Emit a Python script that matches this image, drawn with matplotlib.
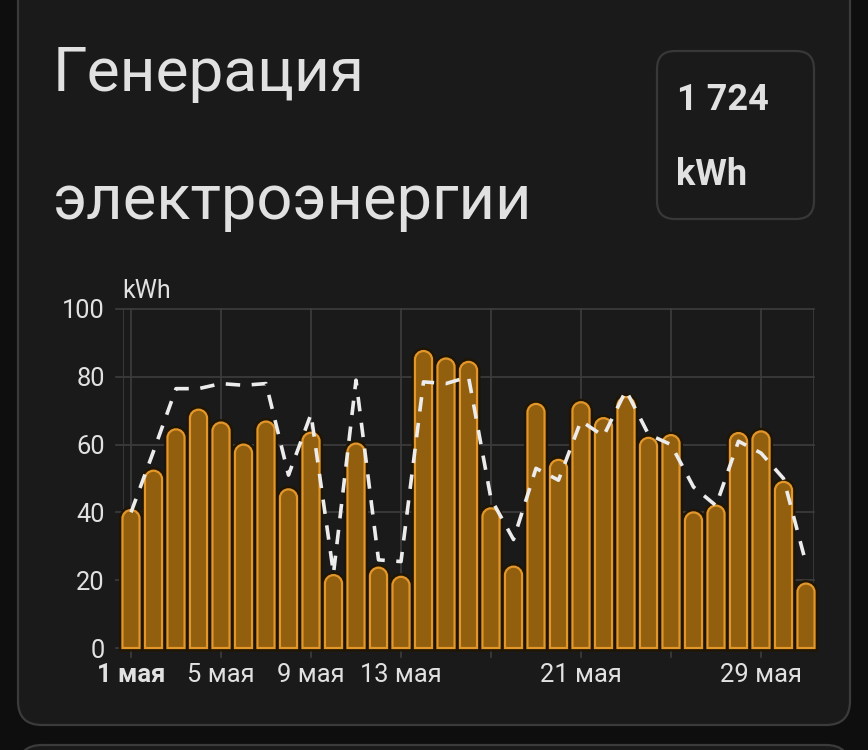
import numpy as np
import matplotlib
matplotlib.use('Agg')
import matplotlib.pyplot as plt
from matplotlib.patches import FancyBboxPatch, PathPatch
from matplotlib.path import Path

plt.rcParams['font.family'] = ['Roboto', 'DejaVu Sans']

days = list(range(1, 32))
generation = [40.7, 52.3, 64.5, 70.3, 66.5, 60, 66.8, 46.8, 63.5, 21.5, 60.3, 23.7, 21, 87.6, 85.4, 84.4,
              41.2, 24, 72, 55.5, 72.5, 67.8, 74, 62, 62.8, 40, 42, 63.4, 63.9, 49, 19]
forecast = [40, 58, 76.5, 76.5, 78, 77.5, 78, 51, 69, 22, 79, 26, 25.5, 78.5, 78, 80, 44, 32,
            53, 49.5, 67, 62.5, 76, 63, 60, 47.5, 42, 61, 57.5, 50, 25]
tick_days = [1, 5, 9, 13, 21, 29]
tick_labels = ['1 мая', '5 мая', '9 мая', '13 мая', '21 мая', '29 мая']
grid_days = [1, 5, 9, 13, 17, 21, 25, 29]
y_ticks = [0, 20, 40, 60, 80, 100]

W, H = 868, 750
fig = plt.figure(figsize=(W / 100, H / 100), dpi=100, facecolor='#0e0e0e')

# background layer in pixel coords, y going down
bg = fig.add_axes([0, 0, 1, 1])
bg.set_xlim(0, W)
bg.set_ylim(H, 0)
bg.axis('off')


def card(x0, y0, x1, y1, r, face, edge, lw=1.6):
    bg.add_patch(FancyBboxPatch((x0 + r, y0 + r), x1 - x0 - 2 * r, y1 - y0 - 2 * r,
                                boxstyle=f'round,pad={r},rounding_size={r}',
                                fc=face, ec=edge, lw=lw))


card(18, -40, 850, 725, 24, '#1a1a1a', '#3b3b3b')
card(18, 745, 850, 800, 24, '#1a1a1a', '#3b3b3b')
card(657, 51, 814, 219, 18, '#1a1a1a', '#383838')

bg.text(53, 74, 'Генерация', fontsize=44.8, color='#e1e1e1', va='center', ha='left')
bg.text(53, 202, 'электроэнергии', fontsize=45.5, color='#e1e1e1', va='center', ha='left')
bg.text(677, 100, '1 724', fontsize=26, color='#e1e1e1', va='center', ha='left', fontweight='semibold')
bg.text(676, 175, 'kWh', fontsize=26, color='#e1e1e1', va='center', ha='left', fontweight='semibold')
bg.text(122, 291, 'kWh', fontsize=18, color='#e1e1e1', va='center', ha='left')

# chart axes: plot area 123..814 px wide, 309..648 px tall
ax = fig.add_axes([123 / W, 1 - 648 / H, (814 - 123) / W, (648 - 309) / H])
ax.patch.set_alpha(0)
px_day = 22.5
ax.set_xlim(1 - 8 / px_day, 1 + 683 / px_day)
ax.set_ylim(0, 100)
for s in ax.spines.values():
    s.set_visible(False)

grid_col = '#3d3d3d'
ax.set_yticks(y_ticks)
ax.set_xticks(tick_days)
ax.set_xticklabels(tick_labels)
for d in grid_days:
    ax.plot([d, d], [-2.7, 100], color=grid_col, lw=1.2, clip_on=False, zorder=1)
for v in y_ticks:
    ax.plot([ax.get_xlim()[0] - 0.3, ax.get_xlim()[1]], [v, v], color=grid_col, lw=1.2,
            clip_on=False, zorder=1)
for x in ax.get_xlim():
    ax.plot([x, x], [0, 100], color=grid_col, lw=1.2, zorder=1)
ax.tick_params(axis='both', length=0, labelsize=18.4, labelcolor='#e1e1e1')
ax.tick_params(axis='x', pad=11)
ax.tick_params(axis='y', pad=13)
ax.get_xticklabels()[0].set_fontweight('bold')


def rounded_bar(x, top, w=0.76, r_px=8.5):
    # bar with a half round top, radii given in data units per axis
    rx = w / 2
    ry = r_px * 100 / 339
    k = 0.5523
    verts = [(x - rx, 0), (x - rx, top - ry),
             (x - rx, top - ry + k * ry), (x - k * rx, top), (x, top),
             (x + k * rx, top), (x + rx, top - ry + k * ry), (x + rx, top - ry),
             (x + rx, 0), (x - rx, 0)]
    codes = [Path.MOVETO, Path.LINETO, Path.CURVE4, Path.CURVE4, Path.CURVE4,
             Path.CURVE4, Path.CURVE4, Path.CURVE4, Path.LINETO, Path.CLOSEPOLY]
    return Path(verts, codes)


for d, v in zip(days, generation):
    ax.add_patch(PathPatch(rounded_bar(d, v), fc='none', ec='#1f1503', lw=5, zorder=2, clip_on=False))
    ax.add_patch(PathPatch(rounded_bar(d, v), fc='#925f0f', ec='#e3962a', lw=1.6, zorder=3,
                           joinstyle='miter', clip_on=False))

ax.plot(days, forecast, color='#ececec', lw=2.6, dashes=(4, 3.2), zorder=4)

fig.savefig('out.png', dpi=100, facecolor=fig.get_facecolor())
